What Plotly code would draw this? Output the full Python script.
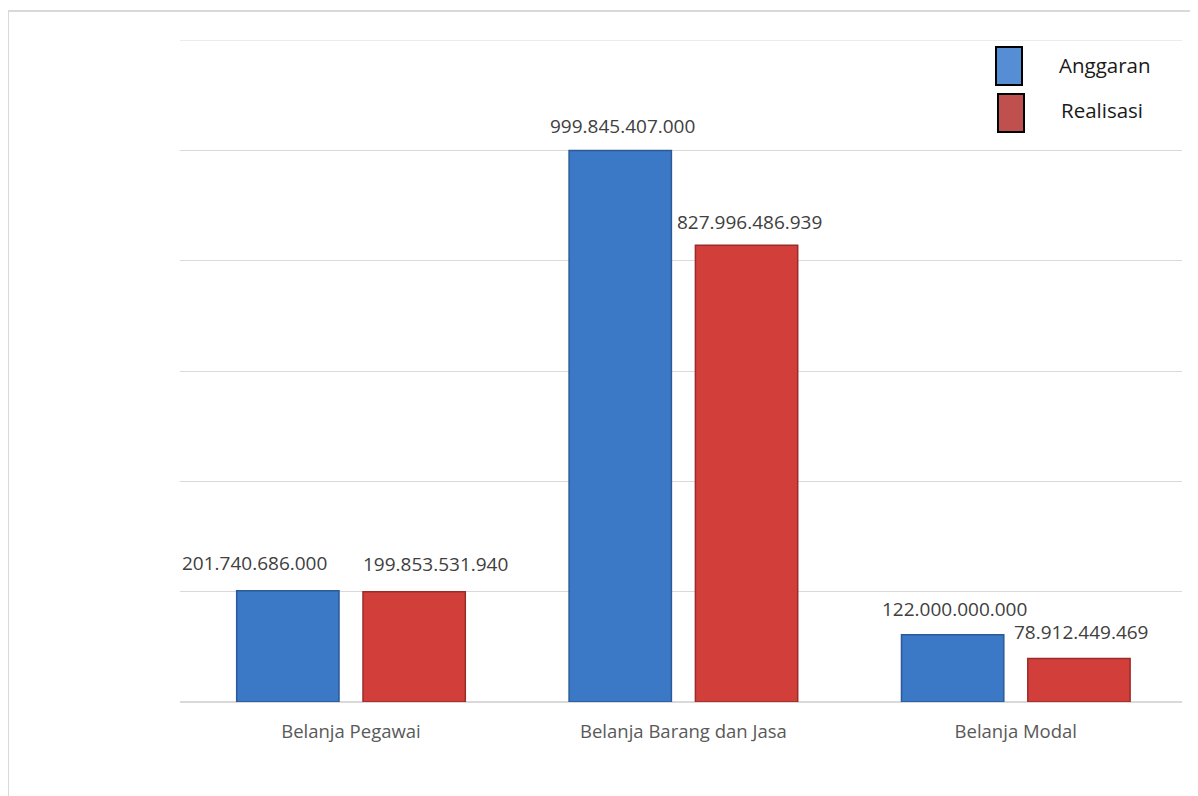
import plotly.graph_objects as go

categories = ["Belanja Pegawai", "Belanja Barang dan Jasa", "Belanja Modal"]
anggaran = [201740686000, 999845407000, 122000000000]
realisasi = [199853531940, 827996486939, 78912449469]
series_names = ["Anggaran", "Realisasi"]
y_max = 1.2e12
y_ticks = [2e11, 4e11, 6e11, 8e11, 1e12]

def fmt(v):
    return f"{v:,}".replace(",", ".")

W, H = 1198, 796
OFF = 8  # page body margin
# desired page coordinates of the plot area: x 180..1182, y 40..702
L, T = 180 - OFF, 40 - OFF
R = W - (1182 - OFF)
B = H - (702 - OFF)
PW, PH = W - L - R, H - T - B

def px(x):
    return (x - OFF - L) / PW

def py(y):
    return (H - B - (y - OFF)) / PH

FONT = "Open Sans"
fig = go.Figure()
fig.add_trace(go.Bar(x=categories, y=anggaran, name=series_names[0],
                     marker=dict(color="#3b78c6", line=dict(color="#2a5a98", width=1.5)),
                     showlegend=False, hoverinfo="skip"))
fig.add_trace(go.Bar(x=categories, y=realisasi, name=series_names[1],
                     marker=dict(color="#d23f3b", line=dict(color="#992b28", width=1.5)),
                     showlegend=False, hoverinfo="skip"))

slot = 63.5
blue_off = [-33, 2.5, 2]
red_off = [20.5, 3, 2]
blue_dy = [28, 24, 26]
red_dy = [28, 23, 26]
ann = []
for i, c in enumerate(categories):
    ann.append(dict(x=c, y=anggaran[i], xref="x", yref="y", text=fmt(anggaran[i]),
                    showarrow=False, xshift=-slot + blue_off[i], yshift=blue_dy[i],
                    font=dict(family=FONT, size=19, color="#404040")))
    ann.append(dict(x=c, y=realisasi[i], xref="x", yref="y", text=fmt(realisasi[i]),
                    showarrow=False, xshift=slot + red_off[i], yshift=red_dy[i],
                    font=dict(family=FONT, size=19, color="#404040")))

# legend text
ann.append(dict(x=px(1057), y=py(65), xref="paper", yref="paper", text=series_names[0],
                xanchor="left", yanchor="middle", showarrow=False,
                font=dict(family=FONT, size=20.5, color="#1a1a1a")))
ann.append(dict(x=px(1059), y=py(110), xref="paper", yref="paper", text=series_names[1],
                xanchor="left", yanchor="middle", showarrow=False,
                font=dict(family=FONT, size=20.5, color="#1a1a1a")))

shapes = [
    dict(type="rect", xref="paper", yref="paper", x0=px(8), x1=px(1225), y0=py(11), y1=py(830),
         line=dict(color="#d9d9d9", width=2), fillcolor="rgba(0,0,0,0)", layer="below"),
    dict(type="line", xref="paper", yref="y", x0=0, x1=1, y0=y_max, y1=y_max,
         line=dict(color="#d9d9d9", width=1), layer="below"),
    dict(type="rect", xref="paper", yref="paper", x0=px(996), x1=px(1022), y0=py(47), y1=py(85),
         line=dict(color="#000000", width=2), fillcolor="#558ed5"),
    dict(type="rect", xref="paper", yref="paper", x0=px(998), x1=px(1024), y0=py(94), y1=py(132),
         line=dict(color="#000000", width=2), fillcolor="#c0504d"),
]

fig.update_layout(
    width=W, height=H,
    margin=dict(l=L, r=R, t=T, b=B),
    paper_bgcolor="white", plot_bgcolor="white",
    barmode="group", bargap=0.24, bargroupgap=0.19,
    annotations=ann, shapes=shapes,
    font=dict(family=FONT),
)
fig.update_yaxes(range=[0, y_max], tickvals=y_ticks,
                 showticklabels=False,
                 showgrid=True, gridcolor="#d9d9d9", gridwidth=1,
                 zeroline=True, zerolinecolor="#d9d9d9", zerolinewidth=1.5, showline=False)
fig.update_xaxes(showline=False, showgrid=False, ticks="",
                 ticklabelstandoff=16,
                 tickfont=dict(family=FONT, size=18.5, color="#595959"))

fig.write_html("out.html")
